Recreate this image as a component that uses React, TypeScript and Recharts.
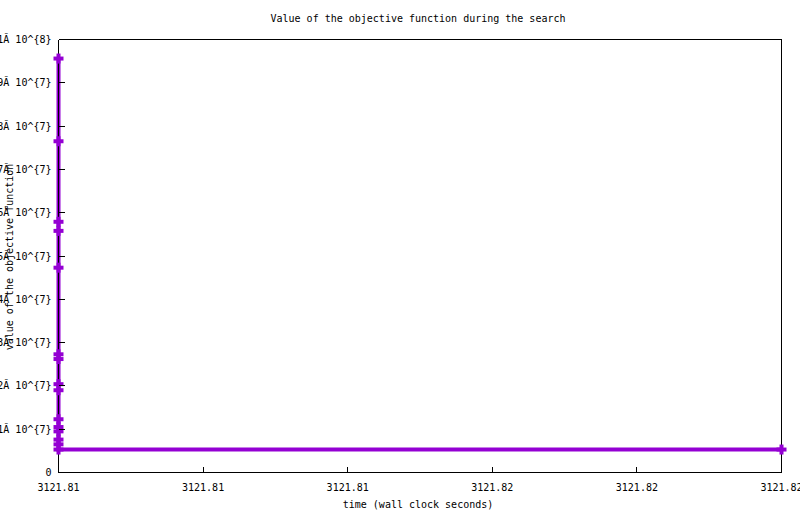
import { LineChart, Line, XAxis, YAxis, ReferenceLine } from "recharts";

// time stamps (wall clock seconds) and objective values
const times = [
  3121.809, 3121.809, 3121.809, 3121.809, 3121.809, 3121.809, 3121.809,
  3121.809, 3121.809, 3121.809, 3121.809, 3121.809, 3121.809, 3121.809,
  3121.809, 3121.819,
];
const values = [
  95.6e6, 76.5e6, 57.9e6, 55.8e6, 47.3e6, 27.3e6, 26.2e6, 20.4e6, 19.0e6,
  12.3e6, 10.5e6, 9.5e6, 7.6e6, 6.5e6, 5.3e6, 5.3e6,
];

const xTicks = [3121.809, 3121.811, 3121.813, 3121.815, 3121.817, 3121.819];
const xTickLabels = ["3121.81", "3121.81", "3121.81", "3121.82", "3121.82", "3121.82"];
const yTicks = [0, 1e7, 2e7, 3e7, 4e7, 5e7, 6e7, 7e7, 8e7, 9e7, 1e8];
const yTickLabels = [
  "0",
  "1Ă 10^{7}",
  "2Ă 10^{7}",
  "3Ă 10^{7}",
  "4Ă 10^{7}",
  "5Ă 10^{7}",
  "6Ă 10^{7}",
  "7Ă 10^{7}",
  "8Ă 10^{7}",
  "9Ă 10^{7}",
  "1Ă 10^{8}",
];

const data = times.map((t, i) => ({ time: t, value: values[i] }));

const FONT = "'DejaVu Sans Mono', monospace";
const PURPLE = "#9400d3";

function xLabel(v: number) {
  const i = xTicks.findIndex((t) => Math.abs(t - v) < 1e-7);
  return i >= 0 ? xTickLabels[i] : String(v);
}

function yLabel(v: number) {
  const i = yTicks.indexOf(v);
  return i >= 0 ? yTickLabels[i] : String(v);
}

function LeftTick(props: any) {
  const { x, y, payload } = props;
  return (
    <g>
      <line x1={x} x2={x + 6} y1={y} y2={y} stroke="#000" shapeRendering="crispEdges" />
      <text x={x - 7} y={y} dy={3.5} textAnchor="end" fontFamily={FONT} fontSize={10} fill="#000">
        {yLabel(payload.value)}
      </text>
    </g>
  );
}

function RightTick(props: any) {
  const { x, y } = props;
  return <line x1={x} x2={x - 6} y1={y} y2={y} stroke="#000" shapeRendering="crispEdges" />;
}

function BottomTick(props: any) {
  const { x, y, payload } = props;
  return (
    <g>
      <line x1={x} x2={x} y1={y} y2={y - 6} stroke="#000" shapeRendering="crispEdges" />
      <text x={x} y={y + 18} textAnchor="middle" fontFamily={FONT} fontSize={10} fill="#000">
        {xLabel(payload.value)}
      </text>
    </g>
  );
}

function TopTick(props: any) {
  const { x, y } = props;
  return <line x1={x} x2={x} y1={y} y2={y + 6} stroke="#000" shapeRendering="crispEdges" />;
}

function PlusDot(props: any) {
  const { cx, cy } = props;
  if (cx == null || cy == null) return null;
  return (
    <g>
      <line x1={cx - 5} x2={cx + 5} y1={cy} y2={cy} stroke={PURPLE} strokeWidth={4} />
      <line x1={cx} x2={cx} y1={cy - 5} y2={cy + 5} stroke={PURPLE} strokeWidth={4} />
    </g>
  );
}

const axisLine = { stroke: "#000", strokeWidth: 1, shapeRendering: "crispEdges" };

export default function App() {
  return (
    <div
      style={{
        position: "absolute",
        left: 0,
        top: 0,
        width: 800,
        height: 514,
        background: "#fff",
        fontFamily: FONT,
        fontSize: 10,
        color: "#000",
      }}
    >
      <LineChart
        width={800}
        height={514}
        data={data}
        margin={{ top: 0, right: 0, bottom: 0, left: 0 }}
      >
        <XAxis
          xAxisId="bottom"
          dataKey="time"
          type="number"
          domain={[xTicks[0], xTicks[xTicks.length - 1]]}
          ticks={xTicks}
          interval={0}
          height={41.5}
          tickSize={0}
          tickMargin={0}
          tick={<BottomTick />}
          axisLine={axisLine}
        />
        <XAxis
          xAxisId="top"
          orientation="top"
          type="number"
          domain={[xTicks[0], xTicks[xTicks.length - 1]]}
          ticks={xTicks}
          interval={0}
          height={39.5}
          tickSize={0}
          tickMargin={0}
          tick={<TopTick />}
          axisLine={axisLine}
        />
        <YAxis
          yAxisId="left"
          type="number"
          domain={[0, 1e8]}
          ticks={yTicks}
          interval={0}
          width={58.5}
          tickSize={0}
          tickMargin={0}
          tick={<LeftTick />}
          axisLine={axisLine}
        />
        <YAxis
          yAxisId="right"
          orientation="right"
          type="number"
          domain={[0, 1e8]}
          ticks={yTicks}
          interval={0}
          width={18.5}
          tickSize={0}
          tickMargin={0}
          tick={<RightTick />}
          axisLine={axisLine}
        />
        <Line
          xAxisId="bottom"
          yAxisId="left"
          type="linear"
          dataKey="value"
          stroke={PURPLE}
          strokeWidth={4}
          dot={<PlusDot />}
          activeDot={false}
          isAnimationActive={false}
        />
        <ReferenceLine
          xAxisId="bottom"
          yAxisId="left"
          x={xTicks[0]}
          stroke="#000"
          strokeWidth={1}
          shapeRendering="crispEdges"
        />
      </LineChart>
      <div
        style={{
          position: "absolute",
          left: 418,
          top: 19,
          transform: "translate(-50%, -50%)",
          whiteSpace: "nowrap",
          lineHeight: "12px",
        }}
      >
        Value of the objective function during the search
      </div>
      <div
        style={{
          position: "absolute",
          left: 418,
          top: 505,
          transform: "translate(-50%, -50%)",
          whiteSpace: "nowrap",
          lineHeight: "12px",
        }}
      >
        time (wall clock seconds)
      </div>
      <div
        style={{
          position: "absolute",
          left: 10,
          top: 257,
          transform: "translate(-50%, -50%) rotate(-90deg)",
          whiteSpace: "nowrap",
          lineHeight: "12px",
        }}
      >
        value of the objective function
      </div>
    </div>
  );
}
